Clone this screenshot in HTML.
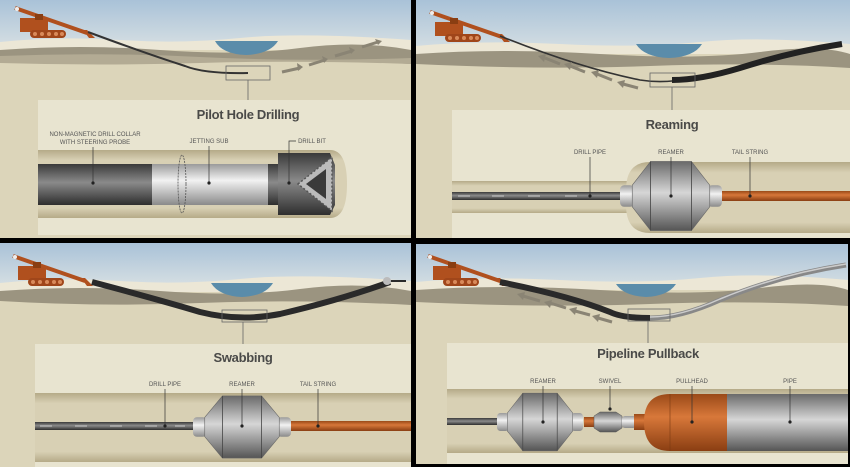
<!DOCTYPE html>
<html><head><meta charset="utf-8"><style>
html,body{margin:0;padding:0;background:#000;}
svg{display:block}
text{font-family:"Liberation Sans",sans-serif;}
.t{font-size:13px;font-weight:bold;fill:#4a4a48;text-anchor:middle;letter-spacing:-0.3px}
.l{font-size:6px;fill:#555;text-anchor:middle}
</style></head><body>
<svg width="850" height="467" viewBox="0 0 850 467" xmlns="http://www.w3.org/2000/svg">
<defs>
<linearGradient id="sky" x1="0" y1="0" x2="0" y2="1"><stop offset="0" stop-color="#a9c2d8"/><stop offset="1" stop-color="#d3dde2"/></linearGradient>
<linearGradient id="dg" x1="0" y1="0" x2="0" y2="1"><stop offset="0" stop-color="#3a3a3a"/><stop offset=".45" stop-color="#8a8a8a"/><stop offset="1" stop-color="#2e2e2e"/></linearGradient>
<linearGradient id="lg" x1="0" y1="0" x2="0" y2="1"><stop offset="0" stop-color="#9a9a9a"/><stop offset=".4" stop-color="#f2f2f2"/><stop offset="1" stop-color="#8a8a8a"/></linearGradient>
<linearGradient id="mg" x1="0" y1="0" x2="0" y2="1"><stop offset="0" stop-color="#6a6a6a"/><stop offset=".45" stop-color="#d6d6d6"/><stop offset="1" stop-color="#555"/></linearGradient>
<linearGradient id="og" x1="0" y1="0" x2="0" y2="1"><stop offset="0" stop-color="#9a4a18"/><stop offset=".4" stop-color="#d8783a"/><stop offset="1" stop-color="#8a3e12"/></linearGradient>
<linearGradient id="tun" x1="0" y1="0" x2="0" y2="1"><stop offset="0" stop-color="#b5aa88"/><stop offset=".15" stop-color="#d8d0b4"/><stop offset=".85" stop-color="#d8d0b4"/><stop offset="1" stop-color="#b5aa88"/></linearGradient>
<g id="rig">
<line x1="10" y1="8" x2="82" y2="33" stroke="#b0501e" stroke-width="4"/>
<rect x="15" y="18" width="28" height="14" fill="#b0501e"/>
<rect x="30" y="14" width="8" height="6" fill="#8a3e12"/>
<rect x="25" y="30" width="36" height="8" rx="4" fill="#a0461a"/>
<circle cx="30" cy="34" r="2" fill="#d98a5a"/><circle cx="37" cy="34" r="2" fill="#d98a5a"/><circle cx="44" cy="34" r="2" fill="#d98a5a"/><circle cx="51" cy="34" r="2" fill="#d98a5a"/><circle cx="57" cy="34" r="2" fill="#d98a5a"/>
<polygon points="78,30 84,38 90,38 82,30" fill="#b0501e"/>
<circle cx="12" cy="9" r="2" fill="#eee"/>
</g>
<g id="ream">
<rect x="-50" y="-10" width="14" height="20" rx="4" fill="url(#lg)"/>
<rect x="36" y="-10" width="14" height="20" rx="4" fill="url(#lg)"/>
<polygon points="-38,-10 -20,-32 20,-32 38,-10 38,10 20,32 -20,32 -38,10" fill="url(#mg)" stroke="#666" stroke-width=".6"/>
<line x1="-20" y1="-32" x2="-20" y2="32" stroke="#444" stroke-width=".8"/>
<line x1="20" y1="-32" x2="20" y2="32" stroke="#444" stroke-width=".8"/>
</g>
</defs>

<!-- Panel 1 -->
<g>
<rect x="0" y="0" width="411" height="238" fill="#dcd5ba"/>
<rect x="0" y="0" width="411" height="44" fill="url(#sky)"/>
<path d="M0,42 Q60,36 120,40 T240,38 T411,40 V50 H0Z" fill="#ece7d6"/>
<path d="M0,50 Q80,44 160,50 T300,48 T411,50 V64 Q300,58 200,62 T0,60Z" fill="#9b9480"/>
<path d="M0,56 Q100,52 200,57 T411,58 V64 Q300,60 200,63 T0,63Z" fill="#b3ab94"/>
<path d="M215,41 H278 Q270,54 246,55 Q222,54 215,41Z" fill="#5a8caa"/>
<use href="#rig" x="5" y="0"/>
<path d="M88,32 Q150,55 185,66 Q205,74 248,73" fill="none" stroke="#333" stroke-width="2"/>
<rect x="226" y="66" width="44" height="14" fill="none" stroke="#666" stroke-width=".8"/>
<line x1="248" y1="80" x2="248" y2="101" stroke="#666" stroke-width=".8"/>
<g stroke="#8a8474" stroke-width="3"><line x1="282" y1="72" x2="300" y2="68"/><line x1="309" y1="65" x2="325" y2="60"/><line x1="335" y1="56" x2="352" y2="51"/><line x1="362" y1="47" x2="378" y2="42"/></g>
<g fill="#8a8474"><polygon points="303,67 297,63 298,71"/><polygon points="328,59 322,56 324,63"/><polygon points="355,50 349,47 351,54"/><polygon points="382,41 375,39 378,45"/></g>
<rect x="38" y="100" width="373" height="135" fill="#e8e4d0"/>
<text class="t" x="248" y="119">Pilot Hole Drilling</text>
<text class="l" x="95" y="136">NON-MAGNETIC DRILL COLLAR</text>
<text class="l" x="95" y="144">WITH STEERING PROBE</text>
<text class="l" x="209" y="143">JETTING SUB</text>
<text class="l" x="312" y="143">DRILL BIT</text>
<path d="M38,150 H330 Q347,150 347,184 Q347,218 330,218 H38Z" fill="url(#tun)"/>
<rect x="38" y="164" width="114" height="41" fill="url(#dg)"/>
<rect x="152" y="164" width="116" height="41" fill="url(#lg)"/>
<rect x="268" y="164" width="10" height="41" fill="url(#dg)"/>
<path d="M278,153 H330 L335,165 V205 L330,215 H278Z" fill="url(#dg)"/>
<polygon points="298,184 332,157 332,211" fill="#bbb" stroke="#555" stroke-width="1.5" stroke-dasharray="2,2"/>
<polygon points="306,184 326,169 326,199" fill="#3a3a3a"/>
<ellipse cx="182" cy="184" rx="4" ry="29" fill="none" stroke="#555" stroke-width=".8" stroke-dasharray="2,1"/>
<line x1="93" y1="147" x2="93" y2="183" stroke="#333" stroke-width=".7"/><circle cx="93" cy="183" r="1.6" fill="#222"/>
<line x1="209" y1="146" x2="209" y2="183" stroke="#333" stroke-width=".7"/><circle cx="209" cy="183" r="1.6" fill="#222"/>
<path d="M296,141 H289 V183" fill="none" stroke="#333" stroke-width=".7"/><circle cx="289" cy="183" r="1.6" fill="#222"/>
</g>

<!-- Panel 2 -->
<g>
<rect x="416" y="0" width="434" height="238" fill="#dcd5ba"/>
<rect x="416" y="0" width="434" height="48" fill="url(#sky)"/>
<path d="M416,46 Q480,40 560,44 T700,42 T850,44 V54 H416Z" fill="#ece7d6"/>
<path d="M416,54 Q500,48 600,54 T760,52 T850,54 V68 Q760,62 650,66 T416,64Z" fill="#9b9480"/>
<path d="M636,44 H702 Q694,57 669,58 Q644,57 636,44Z" fill="#5a8caa"/>
<use href="#rig" x="420" y="4"/>
<path d="M500,36 Q580,68 640,80 Q665,84 690,78" fill="none" stroke="#333" stroke-width="1.6"/>
<path d="M672,80 Q700,80 740,68 Q790,52 842,44" fill="none" stroke="#222" stroke-width="6"/>
<rect x="650" y="73" width="45" height="14" fill="none" stroke="#666" stroke-width=".8"/>
<line x1="672" y1="87" x2="672" y2="110" stroke="#666" stroke-width=".8"/>
<g stroke="#8a8474" stroke-width="3"><line x1="545" y1="58" x2="560" y2="64"/><line x1="570" y1="66" x2="585" y2="72"/><line x1="597" y1="74" x2="612" y2="80"/><line x1="623" y1="84" x2="638" y2="88"/></g>
<g fill="#8a8474"><polygon points="538,56 546,54 544,62"/><polygon points="564,64 572,62 570,70"/><polygon points="591,72 599,70 597,78"/><polygon points="617,82 625,80 623,88"/></g>
<rect x="452" y="110" width="398" height="128" fill="#e8e4d0"/>
<text class="t" x="672" y="129">Reaming</text>
<text class="l" x="590" y="154">DRILL PIPE</text>
<text class="l" x="671" y="154">REAMER</text>
<text class="l" x="750" y="154">TAIL STRING</text>
<rect x="452" y="181" width="180" height="32" fill="url(#tun)"/>
<path d="M850,162 H650 Q626,162 626,190 V205 Q626,233 650,233 H850Z" fill="url(#tun)"/>
<rect x="452" y="192" width="175" height="8" fill="url(#dg)"/>
<g stroke="#ccc" stroke-width="1"><line x1="458" y1="196" x2="470" y2="196"/><line x1="492" y1="196" x2="504" y2="196"/><line x1="528" y1="196" x2="540" y2="196"/><line x1="565" y1="196" x2="577" y2="196"/></g>
<rect x="720" y="191" width="130" height="10" fill="url(#og)"/>
<use href="#ream" transform="translate(671,196) scale(1.02,1.08)"/>
<line x1="590" y1="157" x2="590" y2="196" stroke="#333" stroke-width=".7"/><circle cx="590" cy="196" r="1.6" fill="#222"/>
<line x1="671" y1="157" x2="671" y2="196" stroke="#333" stroke-width=".7"/><circle cx="671" cy="196" r="1.6" fill="#222"/>
<line x1="750" y1="157" x2="750" y2="196" stroke="#333" stroke-width=".7"/><circle cx="750" cy="196" r="1.6" fill="#222"/>
</g>

<!-- Panel 3 -->
<g>
<rect x="0" y="243" width="411" height="224" fill="#dcd5ba"/>
<rect x="0" y="243" width="411" height="40" fill="url(#sky)"/>
<path d="M0,283 Q60,277 120,281 T240,279 T411,281 V292 H0Z" fill="#ece7d6"/>
<path d="M0,291 Q80,285 160,291 T300,289 T411,291 V305 Q300,299 200,303 T0,301Z" fill="#9b9480"/>
<path d="M211,283 H273 Q265,296 242,297 Q219,296 211,283Z" fill="#5a8caa"/>
<use href="#rig" x="3" y="248" />
<path d="M92,282 Q160,300 200,312 Q240,322 280,314 Q340,300 390,282" fill="none" stroke="#2a2a2a" stroke-width="6"/>
<line x1="390" y1="281" x2="406" y2="281" stroke="#2a2a2a" stroke-width="2"/>
<circle cx="387" cy="281" r="4" fill="#bbb"/>
<rect x="222" y="310" width="45" height="12" fill="none" stroke="#666" stroke-width=".8"/>
<line x1="243" y1="322" x2="243" y2="345" stroke="#666" stroke-width=".8"/>
<rect x="35" y="344" width="376" height="123" fill="#e8e4d0"/>
<text class="t" x="243" y="362">Swabbing</text>
<text class="l" x="165" y="386">DRILL PIPE</text>
<text class="l" x="242" y="386">REAMER</text>
<text class="l" x="318" y="386">TAIL STRING</text>
<rect x="35" y="393" width="376" height="69" fill="url(#tun)"/>
<rect x="35" y="422" width="160" height="8" fill="url(#dg)"/>
<g stroke="#ccc" stroke-width="1"><line x1="40" y1="426" x2="52" y2="426"/><line x1="75" y1="426" x2="87" y2="426"/><line x1="110" y1="426" x2="122" y2="426"/><line x1="145" y1="426" x2="157" y2="426"/><line x1="175" y1="426" x2="185" y2="426"/></g>
<rect x="288" y="421" width="123" height="10" fill="url(#og)"/>
<use href="#ream" transform="translate(242,427) scale(0.98,0.97)"/>
<line x1="165" y1="389" x2="165" y2="426" stroke="#333" stroke-width=".7"/><circle cx="165" cy="426" r="1.6" fill="#222"/>
<line x1="242" y1="389" x2="242" y2="426" stroke="#333" stroke-width=".7"/><circle cx="242" cy="426" r="1.6" fill="#222"/>
<line x1="318" y1="389" x2="318" y2="426" stroke="#333" stroke-width=".7"/><circle cx="318" cy="426" r="1.6" fill="#222"/>
</g>

<!-- Panel 4 -->
<g>
<rect x="416" y="244" width="432" height="220" fill="#dcd5ba"/>
<rect x="416" y="244" width="432" height="40" fill="url(#sky)"/>
<path d="M416,282 Q480,276 560,280 T700,278 T848,280 V290 H416Z" fill="#ece7d6"/>
<path d="M416,290 Q500,284 600,290 T760,288 T848,290 V306 Q760,300 650,304 T416,302Z" fill="#9b9480"/>
<path d="M616,284 H676 Q668,296 646,297 Q624,296 616,284Z" fill="#5a8caa"/>
<use href="#rig" x="418" y="248"/>
<path d="M500,282 Q570,296 610,312 Q622,318 650,318" fill="none" stroke="#2a2a2a" stroke-width="6"/>
<path d="M650,318 Q680,318 720,300 Q780,275 846,265" fill="none" stroke="#888" stroke-width="5"/>
<path d="M650,317 Q680,317 720,299 Q780,274 846,264" fill="none" stroke="#ccc" stroke-width="1.5"/>
<rect x="628" y="309" width="42" height="12" fill="none" stroke="#666" stroke-width=".8"/>
<line x1="648" y1="321" x2="648" y2="343" stroke="#666" stroke-width=".8"/>
<g stroke="#8a8474" stroke-width="3"><line x1="523" y1="296" x2="540" y2="301"/><line x1="550" y1="303" x2="566" y2="308"/><line x1="575" y1="311" x2="590" y2="315"/><line x1="598" y1="318" x2="612" y2="322"/></g>
<g fill="#8a8474"><polygon points="517,294 525,292 523,300"/><polygon points="544,302 552,300 550,308"/><polygon points="569,309 577,307 575,315"/><polygon points="592,316 600,314 598,322"/></g>
<rect x="447" y="343" width="401" height="121" fill="#e8e4d0"/>
<text class="t" x="648" y="358">Pipeline Pullback</text>
<text class="l" x="543" y="383">REAMER</text>
<text class="l" x="610" y="383">SWIVEL</text>
<text class="l" x="692" y="383">PULLHEAD</text>
<text class="l" x="790" y="383">PIPE</text>
<rect x="447" y="389" width="401" height="64" fill="url(#tun)"/>
<rect x="447" y="418" width="52" height="7" fill="url(#dg)"/>
<use href="#ream" transform="translate(540,422) scale(0.86,0.9)"/>
<rect x="584" y="417" width="10" height="10" fill="url(#og)"/>
<path d="M594,416 L600,412 H616 L622,416 V428 L616,432 H600 L594,428Z" fill="url(#mg)" stroke="#555" stroke-width=".5"/>
<rect x="622" y="416" width="14" height="12" rx="3" fill="url(#lg)"/>
<rect x="634" y="414" width="14" height="16" fill="url(#og)"/>
<path d="M670,394 H728 V451 H670 Q644,451 644,422 Q644,394 670,394Z" fill="url(#og)"/>
<line x1="670" y1="394" x2="670" y2="451" stroke="#7a3a12" stroke-width=".6"/>
<rect x="727" y="394" width="121" height="57" fill="url(#mg)"/>
<line x1="543" y1="386" x2="543" y2="422" stroke="#333" stroke-width=".7"/><circle cx="543" cy="422" r="1.6" fill="#222"/>
<line x1="610" y1="386" x2="610" y2="409" stroke="#333" stroke-width=".7"/><circle cx="610" cy="409" r="1.6" fill="#222"/>
<line x1="692" y1="386" x2="692" y2="422" stroke="#333" stroke-width=".7"/><circle cx="692" cy="422" r="1.6" fill="#222"/>
<line x1="790" y1="386" x2="790" y2="422" stroke="#333" stroke-width=".7"/><circle cx="790" cy="422" r="1.6" fill="#222"/>
</g>
</svg>
</body></html>
